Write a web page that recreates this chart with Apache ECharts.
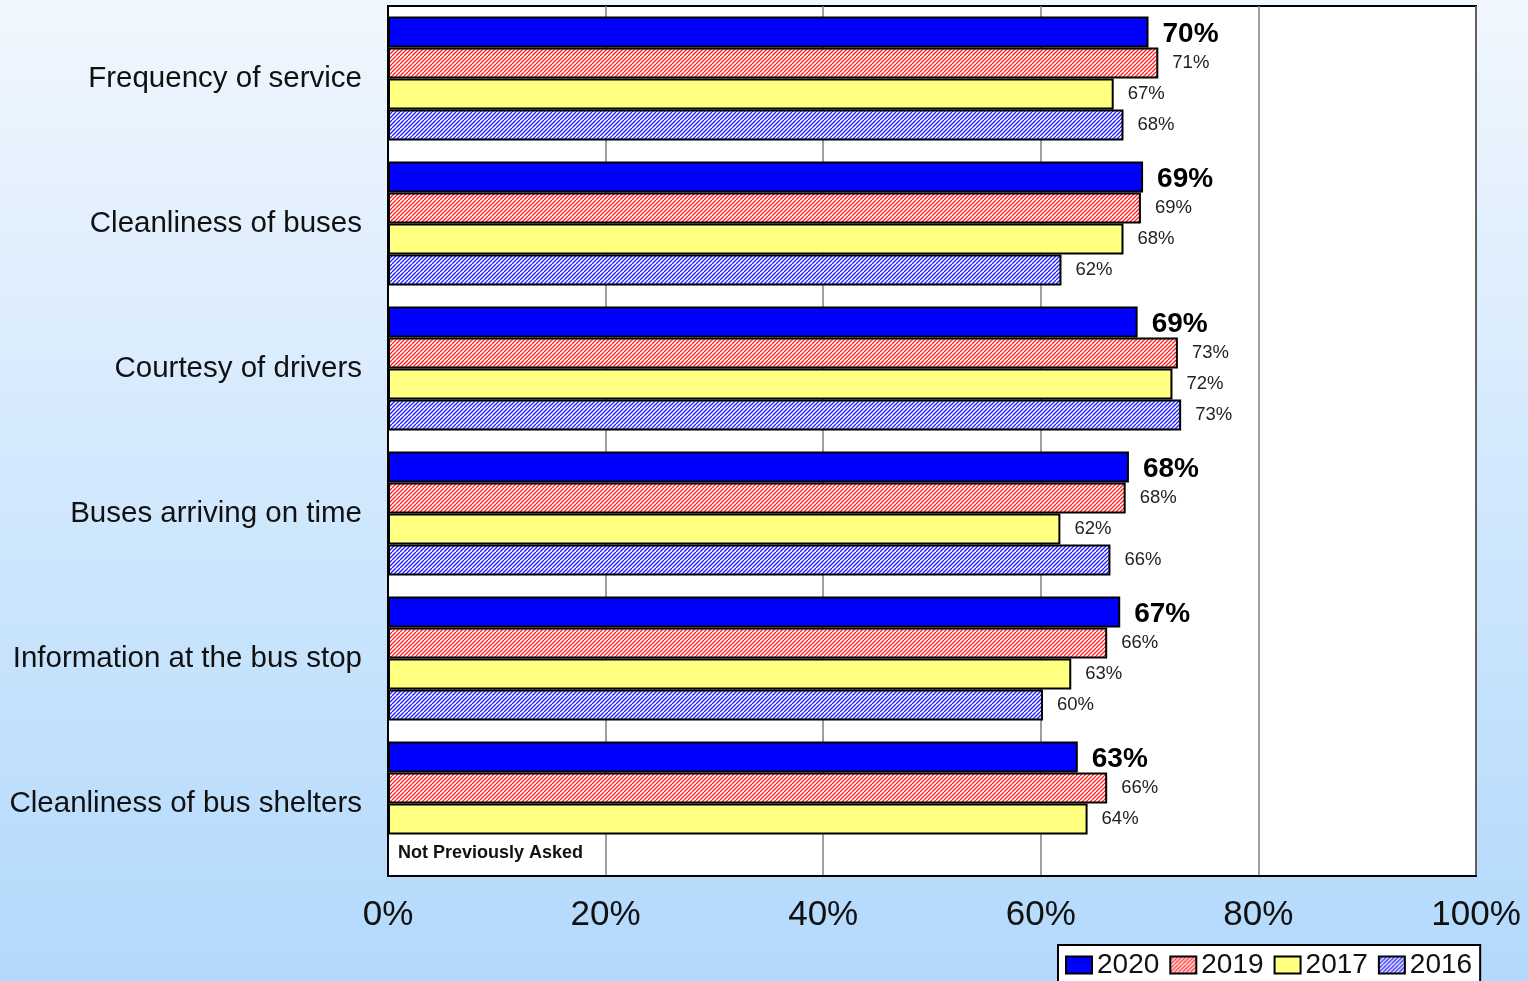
<!DOCTYPE html>
<html>
<head>
<meta charset="utf-8">
<script src="https://cdn.jsdelivr.net/npm/echarts@6/dist/echarts.min.js"></script>
<style>
html,body{margin:0;padding:0;width:1528px;height:981px;overflow:hidden;}
#chart{width:1528px;height:981px;}
</style>
</head>
<body>
<div id="chart"></div>
<script>
const categories = ['Frequency of service','Cleanliness of buses','Courtesy of drivers','Buses arriving on time','Information at the bus stop','Cleanliness of bus shelters'];
const years = ['2020','2019','2017','2016'];
const values2020 = [69.9, 69.4, 68.9, 68.1, 67.3, 63.4];
const values2019 = [70.8, 69.2, 72.6, 67.8, 66.1, 66.1];
const values2017 = [66.7, 67.6, 72.1, 61.8, 62.8, 64.3];
const values2016 = [67.6, 61.9, 72.9, 66.4, 60.2, null];
const labels2020 = ['70%','69%','69%','68%','67%','63%'];
const labels2019 = ['71%','69%','73%','68%','66%','66%'];
const labels2017 = ['67%','68%','72%','62%','63%','64%'];
const labels2016 = ['68%','62%','73%','66%','60%',''];
const xTicks = [0,20,40,60,80,100];
const noteText = 'Not Previously Asked';

function stripe(color){
  const c = document.createElement('canvas');
  c.width = 8; c.height = 8;
  const g = c.getContext('2d');
  g.fillStyle = '#ffffff'; g.fillRect(0,0,8,8);
  g.strokeStyle = color; g.lineWidth = 1.3;
  for (let k = -8; k <= 24; k += 4){
    g.beginPath(); g.moveTo(k,0); g.lineTo(k-8,8); g.stroke();
  }
  return {image:c, repeat:'repeat'};
}

const FF = 'Liberation Sans, Arial, sans-serif';
const chart = echarts.init(document.getElementById('chart'));
const baseItem = {borderColor:'#000', borderWidth:2};
function mk(name, vals, labs, color, bold){
  return {
    name, type:'bar', barGap:'0%', barCategoryGap:'14.5%',
    itemStyle: Object.assign({color}, baseItem),
    label:{show:true, position:'right', distance:14,
      fontFamily:FF,
      fontSize: bold?28:18.5, fontWeight: bold?'bold':'normal',
      color: bold?'#000':'#222',
      offset: bold?[0,2]:[0,0],
      formatter: p => labs[p.dataIndex]},
    data: vals.map(v => v)
  };
}
const s2016 = mk('2016', values2016, labels2016, stripe('#2020ff'), false);
s2016.data = values2016.map((v,i) => v === null ? {value:0, itemStyle:{borderWidth:0}, label:{formatter:noteText, fontWeight:'bold', fontSize:18, color:'#111', position:'right', distance:10, offset:[0,3]}} : v);

chart.setOption({
  backgroundColor:{type:'linear', x:0, y:0, x2:0, y2:1, colorStops:[{offset:0,color:'#f1f7fe'},{offset:1,color:'#b2d9fc'}]},
  textStyle:{fontFamily:FF},
  grid:{left:388, top:6, right:52, bottom:105, show:true, backgroundColor:'#fff', borderColor:'#000', borderWidth:2, containLabel:false},
  legend:{data:years, left:1058, top:945, orient:'horizontal', backgroundColor:'#fff', borderColor:'#000', borderWidth:2,
    padding:[6,8,8,7], itemWidth:26, itemHeight:17, itemGap:10, icon:'rect',
    textStyle:{fontSize:28, color:'#111', fontFamily:FF}},
  xAxis:{type:'value', min:0, max:100, interval:20,
    axisLine:{show:true, lineStyle:{color:'#000', width:2}},
    axisTick:{show:false},
    splitLine:{show:true, lineStyle:{color:'#808080', width:1.5}},
    axisLabel:{fontSize:35, color:'#111', margin:22, fontFamily:FF, formatter: v => xTicks.includes(v) ? v + '%' : ''}},
  yAxis:{type:'category', data:categories, inverse:true,
    axisLine:{show:true, lineStyle:{color:'#000', width:2}},
    axisTick:{show:false},
    axisLabel:{fontSize:29.5, color:'#111', margin:26, fontFamily:FF}},
  series:[
    mk('2020', values2020, labels2020, '#0000ff', true),
    mk('2019', values2019, labels2019, stripe('#ff2020'), false),
    mk('2017', values2017, labels2017, '#ffff80', false),
    s2016
  ]
});
</script>
</body>
</html>
